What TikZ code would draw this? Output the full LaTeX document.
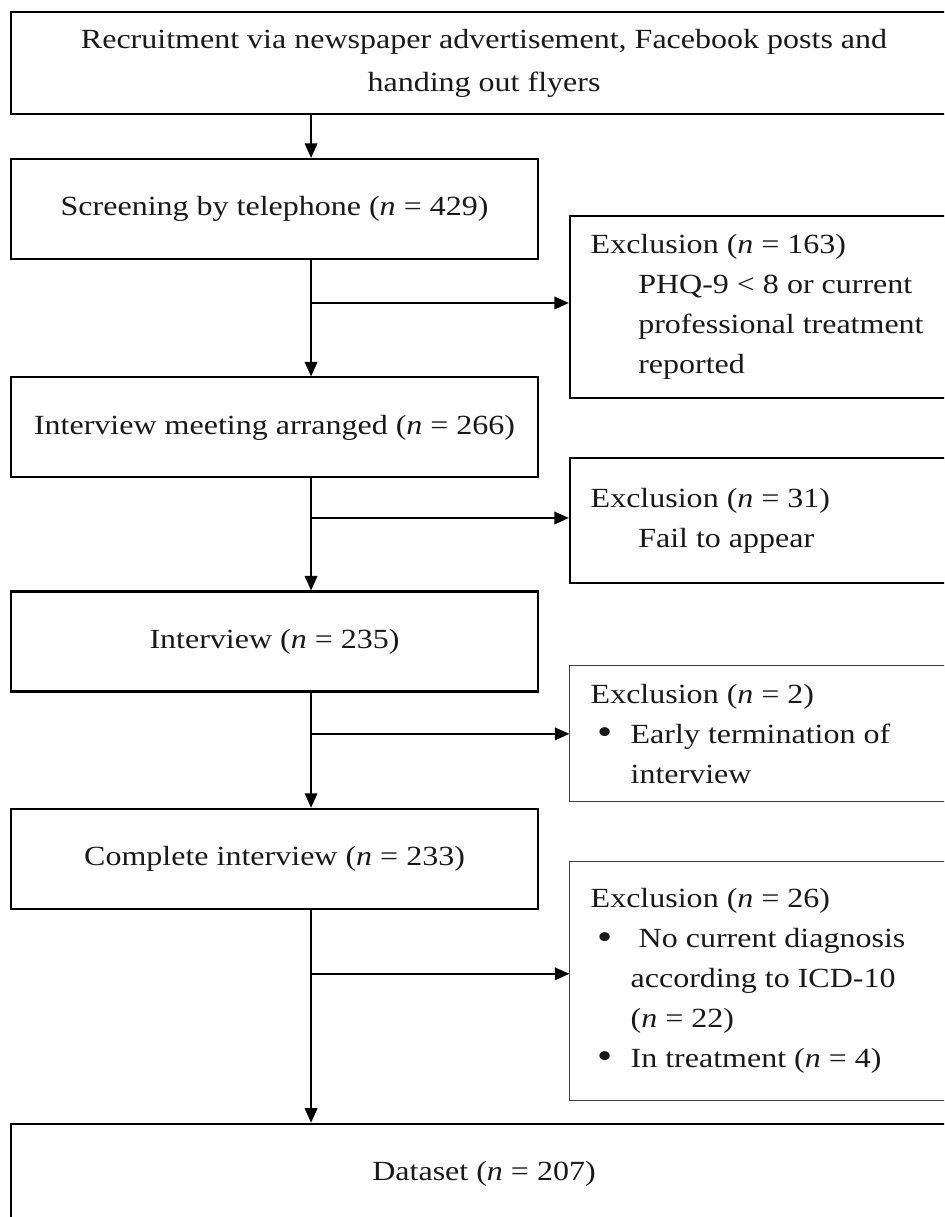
\documentclass[tikz,border=0pt]{standalone}
\usepackage{fontspec}
\setmainfont{Liberation Serif}[FakeStretch=1.155]
\usetikzlibrary{arrows.meta}

\newcommand{\exclitem}{\makebox[17.3pt][l]{\hspace{2.8pt}\raisebox{-0.6pt}{\scalebox{1.35}{\textbullet}}}}
\newcommand{\exclindent}{\hspace*{20.6pt}}

\begin{document}
\begin{tikzpicture}[x=1pt, y=1pt,
  font=\fontsize{12pt}{17.3pt}\selectfont, text=black!90,
  mainbox/.style={draw, line width=0.9pt, minimum width=228.2pt, minimum height=43.3pt, inner sep=0pt, align=center},
  exclbox/.style={draw, line width=0.9pt, minimum width=167.6pt, text width=149.6pt, inner xsep=9pt, inner ysep=0pt, align=flush left},
  thinbox/.style={exclbox, line width=0.45pt, draw=black!75},
  flow/.style={line width=0.9pt, -{Triangle[length=6.3pt, width=5.4pt]}}]

\useasboundingbox (0,0) rectangle (408.8,-527.0);
\clip (0,0) rectangle (408.8,-527.0);

%% Main flow
\node [mainbox, minimum width=409.6pt, minimum height=44.2pt, font=\fontsize{12pt}{18.6pt}\selectfont] (recruit) at (209.6,-27.3) {Recruitment via newspaper advertisement, Facebook posts and\\handing out flyers};
\node [mainbox] (screen) at (118.9,-90.5) {Screening by telephone (\textit{n} = 429)};
\node [mainbox] (meet) at (118.9,-185.1) {Interview meeting arranged (\textit{n} = 266)};
\node [mainbox] (interview) at (118.9,-277.8) {Interview (\textit{n} = 235)};
\node [mainbox] (complete) at (118.9,-371.9) {Complete interview (\textit{n} = 233)};
\node [mainbox, minimum width=409.6pt] (dataset) at (209.6,-508.3) {Dataset (\textit{n} = 207)};

%% Exclusions
\node [exclbox, minimum height=78.8pt] (excl1) at (330.6,-132.9) {Exclusion (\textit{n} = 163)\\\exclindent PHQ-9 < 8 or current\\\exclindent professional treatment\\\exclindent reported};
\node [exclbox, minimum height=54.1pt] (excl2) at (330.6,-225.4) {Exclusion (\textit{n} = 31)\\\exclindent Fail to appear};
\node [thinbox, minimum height=58.9pt] (excl3) at (330.6,-317.8) {Exclusion (\textit{n} = 2)\\\exclitem Early termination of\\\hspace*{17.3pt}interview};
\node [thinbox, minimum height=103.1pt] (excl4) at (330.6,-424.8) {Exclusion (\textit{n} = 26)\\\exclitem{} No current diagnosis\\\hspace*{17.3pt}according to ICD-10\\\hspace*{17.3pt}(\textit{n} = 22)\\\exclitem In treatment (\textit{n} = 4)};

%% Arrows down
\coordinate (trunk) at (134.7,0);
\draw [flow] (recruit.south -| trunk) -- (screen.north -| trunk);
\draw [flow] (screen.south -| trunk) -- (meet.north -| trunk);
\draw [flow] (meet.south -| trunk) -- (interview.north -| trunk);
\draw [flow] (interview.south -| trunk) -- (complete.north -| trunk);
\draw [flow] (complete.south -| trunk) -- (dataset.north -| trunk);

%% Arrows to the side
\coordinate (br1) at (134.7,-131.2);
\coordinate (br2) at (134.7,-224.3);
\coordinate (br3) at (134.7,-317.8);
\coordinate (br4) at (134.7,-421.7);
\draw [flow] (br1) -- (br1 -| excl1.west);
\draw [flow] (br2) -- (br2 -| excl2.west);
\draw [flow] (br3) -- (br3 -| excl3.west);
\draw [flow] (br4) -- (br4 -| excl4.west);

\end{tikzpicture}
\end{document}
